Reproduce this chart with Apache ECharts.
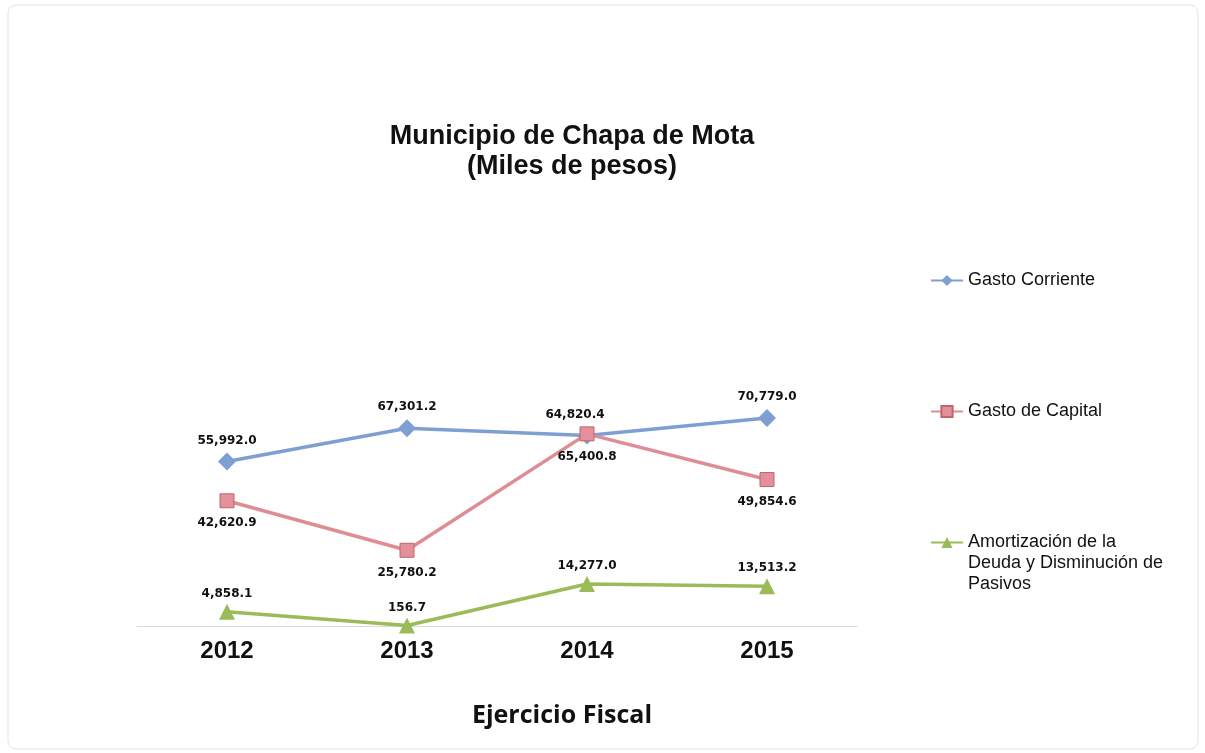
<!DOCTYPE html>
<html>
<head>
<meta charset="utf-8">
<script src="https://cdn.jsdelivr.net/npm/echarts@6/dist/echarts.min.js"></script>
<style>
  html, body { margin: 0; padding: 0; background: #fff; }
  #chart { width: 1205px; height: 753px; }
</style>
</head>
<body>
<div id="chart"></div>
<script>
const years = ["2012", "2013", "2014", "2015"];
const gastoCorriente = [55992.0, 67301.2, 64820.4, 70779.0];
const gastoCapital = [42620.9, 25780.2, 65400.8, 49854.6];
const amortizacion = [4858.1, 156.7, 14277.0, 13513.2];

const names = ["Gasto Corriente", "Gasto de Capital", "Amortización de la Deuda y Disminución de Pasivos"];

const chart = echarts.init(document.getElementById("chart"));

function fmt(v) {
    return v.toLocaleString("en-US", { minimumFractionDigits: 1, maximumFractionDigits: 1 });
}

const labelStyle = {
    show: true,
    fontFamily: "DejaVu Sans",
    fontWeight: "bold",
    fontSize: 12,
    color: "#111",
    formatter: p => fmt(p.value)
};

const legendText = {
    fontFamily: "Liberation Sans, Arial",
    fontSize: 18,
    color: "#111",
    lineHeight: 21
};

const option = {
    backgroundColor: "#fff",
    animation: false,
    title: [
        {
            text: "Municipio de Chapa de Mota\n(Miles de pesos)",
            left: 572,
            top: 122,
            textAlign: "center",
            padding: 0,
            textStyle: {
                fontFamily: "Liberation Sans, Arial",
                fontWeight: "bold",
                fontSize: 27,
                lineHeight: 30,
                color: "#111"
            }
        },
        {
            text: "Ejercicio Fiscal",
            left: 562,
            top: 703,
            textAlign: "center",
            padding: 0,
            textStyle: {
                fontFamily: "Open Sans",
                fontWeight: "bold",
                fontSize: 25,
                color: "#111"
            }
        }
    ],
    graphic: [{
        type: "rect",
        shape: { x: 8, y: 5, width: 1190, height: 744, r: 8 },
        style: { fill: "none", stroke: "#e3e3e3", lineWidth: 1 },
        silent: true
    }],
    legend: [
        {
            data: [names[0]], left: 930, top: 270, padding: 0, itemWidth: 32, itemHeight: 14,
            textStyle: legendText
        },
        {
            data: [names[1]], left: 930, top: 401, padding: 0, itemWidth: 32, itemHeight: 14,
            textStyle: legendText
        },
        {
            data: [names[2]], left: 930, top: 490, padding: 0, itemWidth: 32, itemHeight: 14,
            formatter: () => "\n\nAmortización de la\nDeuda y Disminución de\nPasivos",
            textStyle: legendText
        }
    ],
    grid: { left: 137, width: 720, top: 391, height: 235 },
    xAxis: {
        type: "category",
        data: years,
        axisLine: { lineStyle: { color: "#d9d9d9", width: 1 } },
        axisTick: { show: false },
        axisLabel: {
            margin: 13,
            fontFamily: "Liberation Sans, Arial",
            fontWeight: "bold",
            fontSize: 24,
            color: "#111"
        }
    },
    yAxis: {
        type: "value",
        min: 0,
        max: 80000,
        show: false,
        splitLine: { show: false }
    },
    series: [
        {
            name: names[0],
            type: "line",
            data: gastoCorriente.map((v, i) => i === 2 ? { value: v, label: { offset: [-12, 0] } } : v),
            symbol: "diamond",
            symbolSize: 18,
            lineStyle: { color: "#7f9fd3", width: 3.5 },
            itemStyle: { color: "#7f9fd3" },
            label: Object.assign({}, labelStyle, { position: "top", distance: 6 })
        },
        {
            name: names[1],
            type: "line",
            data: gastoCapital,
            symbol: "rect",
            symbolSize: 14,
            lineStyle: { color: "#df8d95", width: 3.5 },
            itemStyle: { color: "#e3909a", borderColor: "#c0646c", borderWidth: 1 },
            label: Object.assign({}, labelStyle, { position: "bottom", distance: 9 })
        },
        {
            name: names[2],
            type: "line",
            data: amortizacion,
            symbol: "triangle",
            symbolSize: 16,
            lineStyle: { color: "#9bbb59", width: 3.5 },
            itemStyle: { color: "#9bbb59" },
            label: Object.assign({}, labelStyle, { position: "top", distance: 4 })
        }
    ]
};

chart.setOption(option);
</script>
</body>
</html>
